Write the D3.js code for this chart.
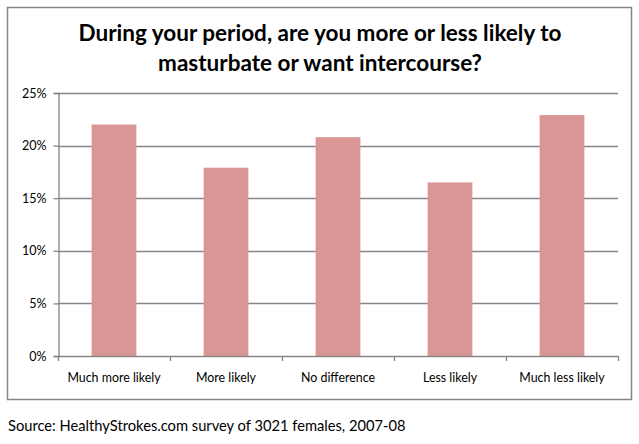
<!DOCTYPE html>
<html>
<head>
<meta charset="utf-8">
<script src="https://cdn.jsdelivr.net/npm/d3@7"></script>
<style>
  body { margin: 0; background: #fff; }
  text { font-family: Lato, "Liberation Sans", sans-serif; }
</style>
</head>
<body>
<div id="chart"></div>
<script>
// data
var categories = ["Much more likely", "More likely", "No difference", "Less likely", "Much less likely"];
var values = [22.0, 17.9, 20.8, 16.5, 22.9];
var yTicks = [0, 5, 10, 15, 20, 25];
var titleLines = ["During your period, are you more or less likely to", "masturbate or want intercourse?"];
var source = "Source: HealthyStrokes.com survey of 3021 females, 2007-08";

var width = 639, height = 444;
var plotLeft = 58, plotRight = 618, plotTop = 93, plotBottom = 356;
var grey = "#868686";

var svg = d3.select("#chart").append("svg")
  .attr("width", width)
  .attr("height", height);

// chart frame
svg.append("rect")
  .attr("x", 7.5).attr("y", 7.5)
  .attr("width", 624).attr("height", 392)
  .style("fill", "#fff")
  .style("stroke", grey)
  .style("stroke-width", 1.5);

// title
svg.selectAll(".title")
  .data(titleLines)
  .enter()
  .append("text")
  .attr("class", "title")
  .attr("x", 320)
  .attr("y", function (d, i) { return 41 + i * 30; })
  .attr("text-anchor", "middle")
  .style("font-weight", "bold")
  .style("font-size", "22.5px")
  .style("fill", "#000")
  .text(function (d) { return d; });

var x = d3.scaleBand()
  .domain(categories)
  .range([plotLeft, plotRight])
  .paddingInner(0.6)
  .paddingOuter(0.3);

var y = d3.scaleLinear()
  .domain([0, 25])
  .range([plotBottom, plotTop]);

// gridlines
svg.selectAll(".grid")
  .data(yTicks.filter(function (d) { return d > 0; }))
  .enter()
  .append("line")
  .attr("x1", plotLeft).attr("x2", plotRight)
  .attr("y1", function (d) { return Math.round(y(d)) + 0.5; })
  .attr("y2", function (d) { return Math.round(y(d)) + 0.5; })
  .style("stroke", grey)
  .style("stroke-width", 1.3);

// bars
svg.selectAll(".bar")
  .data(values)
  .enter()
  .append("rect")
  .attr("x", function (d, i) { return x(categories[i]); })
  .attr("y", function (d) { return y(d); })
  .attr("width", x.bandwidth())
  .attr("height", function (d) { return plotBottom - y(d); })
  .style("fill", "#D99694");

// y axis
var yAxis = svg.append("g")
  .attr("transform", "translate(" + (plotLeft + 0.5) + ",0)")
  .call(d3.axisLeft(y).tickValues(yTicks).tickSize(5).tickPadding(7)
    .tickFormat(function (d) { return d + "%"; }));
yAxis.select(".domain").style("stroke", grey).style("stroke-width", 1.3);
yAxis.selectAll(".tick line").style("stroke", grey).style("stroke-width", 1.3);
yAxis.selectAll(".tick text")
  .style("font-family", "Lato, sans-serif")
  .style("font-size", "12.5px")
  .style("fill", "#000");

// x axis line and tick marks at category boundaries
svg.append("line")
  .attr("x1", plotLeft).attr("x2", plotRight)
  .attr("y1", plotBottom + 0.5).attr("y2", plotBottom + 0.5)
  .style("stroke", grey)
  .style("stroke-width", 1.3);

var bounds = d3.range(categories.length + 1).map(function (i) { return plotLeft + i * x.step(); });
svg.selectAll(".xtick")
  .data(bounds)
  .enter()
  .append("line")
  .attr("x1", function (d) { return Math.round(d) + 0.5; })
  .attr("x2", function (d) { return Math.round(d) + 0.5; })
  .attr("y1", plotBottom)
  .attr("y2", plotBottom + 5)
  .style("stroke", grey)
  .style("stroke-width", 1.3);

svg.selectAll(".xlabel")
  .data(categories)
  .enter()
  .append("text")
  .attr("x", function (d) { return x(d) + x.bandwidth() / 2; })
  .attr("y", 382)
  .attr("text-anchor", "middle")
  .style("font-size", "12.4px")
  .style("fill", "#000")
  .text(function (d) { return d; });

// source note
svg.append("text")
  .attr("x", 8)
  .attr("y", 431)
  .style("font-size", "14.7px")
  .style("fill", "#000")
  .text(source);
</script>
</body>
</html>
